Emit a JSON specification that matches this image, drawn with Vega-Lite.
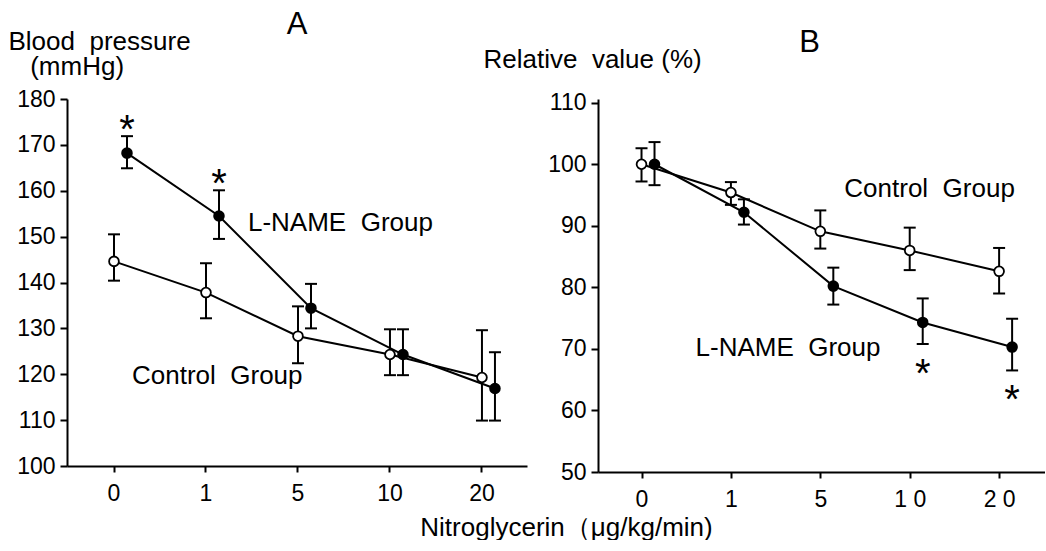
{
  "$schema": "https://vega.github.io/schema/vega-lite/v6.json",
  "background": "white",
  "padding": {"left": 8, "top": 9, "right": 0, "bottom": 0},
  "config": {
    "font": "Liberation Sans",
    "view": {"stroke": null},
    "axis": {
      "domainColor": "black", "domainWidth": 2, "tickColor": "black", "tickWidth": 2,
      "labelColor": "black", "titleColor": "black", "labelFont": "Liberation Sans",
      "titleFont": "Liberation Sans", "titleFontWeight": "normal", "grid": false
    },
    "title": {"fontWeight": "normal", "fontSize": 31, "color": "black", "font": "Liberation Sans"}
  },
  "datasets": {
    "panelA": [
      {"dose": "0", "group": "Control", "mean": 144.6, "lo": 140.4, "hi": 150.5, "sig": ""},
      {"dose": "1", "group": "Control", "mean": 137.8, "lo": 132.2, "hi": 144.2, "sig": ""},
      {"dose": "5", "group": "Control", "mean": 128.3, "lo": 122.4, "hi": 134.8, "sig": ""},
      {"dose": "10", "group": "Control", "mean": 124.3, "lo": 119.8, "hi": 129.8, "sig": ""},
      {"dose": "20", "group": "Control", "mean": 119.3, "lo": 109.9, "hi": 129.6, "sig": ""},
      {"dose": "0", "group": "L-NAME", "mean": 168.2, "lo": 164.9, "hi": 171.9, "sig": "*"},
      {"dose": "1", "group": "L-NAME", "mean": 154.5, "lo": 149.5, "hi": 160.1, "sig": "*"},
      {"dose": "5", "group": "L-NAME", "mean": 134.4, "lo": 130.0, "hi": 139.7, "sig": ""},
      {"dose": "10", "group": "L-NAME", "mean": 124.3, "lo": 119.8, "hi": 129.8, "sig": ""},
      {"dose": "20", "group": "L-NAME", "mean": 116.9, "lo": 109.9, "hi": 124.8, "sig": ""}
    ],
    "panelB": [
      {"dose": "0", "group": "Control", "mean": 100.0, "lo": 97.2, "hi": 102.6, "sig": ""},
      {"dose": "1", "group": "Control", "mean": 95.4, "lo": 93.4, "hi": 97.1, "sig": ""},
      {"dose": "5", "group": "Control", "mean": 89.1, "lo": 86.3, "hi": 92.5, "sig": ""},
      {"dose": "10", "group": "Control", "mean": 86.0, "lo": 82.8, "hi": 89.7, "sig": ""},
      {"dose": "20", "group": "Control", "mean": 82.6, "lo": 79.0, "hi": 86.4, "sig": ""},
      {"dose": "0", "group": "L-NAME", "mean": 100.0, "lo": 96.6, "hi": 103.6, "sig": ""},
      {"dose": "1", "group": "L-NAME", "mean": 92.2, "lo": 90.2, "hi": 94.3, "sig": ""},
      {"dose": "5", "group": "L-NAME", "mean": 80.2, "lo": 77.2, "hi": 83.2, "sig": ""},
      {"dose": "10", "group": "L-NAME", "mean": 74.3, "lo": 70.8, "hi": 78.2, "sig": "*"},
      {"dose": "20", "group": "L-NAME", "mean": 70.3, "lo": 66.5, "hi": 74.9, "sig": "*"}
    ]
  },
  "bounds": "flush",
  "spacing": 71,
  "hconcat": [
    {
      "width": 460,
      "height": 367,
      "title": {"text": "A", "anchor": "middle", "offset": 0, "dy": 13},
      "data": {"name": "panelA"},
      "encoding": {
        "x": {
          "field": "dose", "type": "ordinal", "sort": ["0", "1", "5", "10", "20"],
          "scale": {"type": "band", "paddingInner": 0.717, "paddingOuter": 0.3587, "align": 0.515},
          "axis": {
            "title": "Nitroglycerin（μg/kg/min)", "titleX": 499, "titleY": 69,
            "titleAlign": "center", "titleBaseline": "alphabetic", "titleFontSize": 26,
            "labelAngle": 0, "labelFontSize": 23, "labelPadding": 10, "tickSize": 6
          }
        },
        "xOffset": {"field": "group", "type": "nominal", "scale": {"domain": ["Control", "L-NAME"], "range": [6.5, 32.5]}}
      },
      "layer": [
        {
          "mark": {"type": "line", "color": "black", "strokeWidth": 2},
          "encoding": {
            "y": {
              "field": "mean", "type": "quantitative",
              "scale": {"domain": [100, 180], "nice": false, "zero": false},
              "axis": {
                "title": ["Blood\u00a0 pressure", "\u200b\u00a0\u00a0\u00a0(mmHg)"], "titleAngle": 0, "titleAlign": "left",
                "titleBaseline": "alphabetic", "titleX": -59, "titleY": -50, "titleFontSize": 26,
                "titleLineHeight": 25,
                "values": [100, 105, 110, 115, 120, 125, 130, 135, 140, 145, 150, 155, 160, 165, 170, 175, 180],
                "labelExpr": "datum.value % 10 == 0 ? datum.label : ''",
                "labelFontSize": 23, "tickSize": 7, "labelPadding": 5
              }
            },
            "detail": {"field": "group"}
          }
        },
        {
          "mark": {"type": "rule", "color": "black", "strokeWidth": 2},
          "encoding": {"y": {"field": "lo", "type": "quantitative"}, "y2": {"field": "hi"}}
        },
        {
          "mark": {"type": "tick", "color": "black", "thickness": 2, "size": 12, "opacity": 1},
          "encoding": {"y": {"field": "lo", "type": "quantitative"}}
        },
        {
          "mark": {"type": "tick", "color": "black", "thickness": 2, "size": 12, "opacity": 1},
          "encoding": {"y": {"field": "hi", "type": "quantitative"}}
        },
        {
          "mark": {"type": "point", "shape": "circle", "size": 95, "stroke": "black", "strokeWidth": 1.8, "opacity": 1},
          "encoding": {
            "y": {"field": "mean", "type": "quantitative"},
            "fill": {"field": "group", "type": "nominal", "scale": {"domain": ["Control", "L-NAME"], "range": ["white", "black"]}, "legend": null}
          }
        },
        {
          "mark": {"type": "text", "fontSize": 40, "baseline": "alphabetic", "dy": 7, "color": "black"},
          "encoding": {"y": {"field": "hi", "type": "quantitative"}, "text": {"field": "sig"}}
        },
        {
          "data": {"values": [{}]},
          "mark": {"type": "text", "fontSize": 26, "align": "left", "baseline": "alphabetic", "dx": 55, "color": "black"},
          "encoding": {"x": {"datum": "1"}, "xOffset": {"value": 0}, "y": {"datum": 151.2}, "text": {"value": "L-NAME\u00a0 Group"}}
        },
        {
          "data": {"values": [{}]},
          "mark": {"type": "text", "fontSize": 26, "align": "left", "baseline": "alphabetic", "dx": 31, "color": "black"},
          "encoding": {"x": {"datum": "0"}, "xOffset": {"value": 0}, "y": {"datum": 117.9}, "text": {"value": "Control\u00a0 Group"}}
        }
      ]
    },
    {
      "width": 447,
      "height": 373,
      "title": {"text": "B", "anchor": "middle", "offset": 0, "dx": -12, "dy": 13},
      "data": {"name": "panelB"},
      "encoding": {
        "x": {
          "field": "dose", "type": "ordinal", "sort": ["0", "1", "5", "10", "20"],
          "scale": {"type": "band", "paddingInner": 0.698, "paddingOuter": 0.349, "align": 0.489},
          "axis": {
            "title": null,
            "labelExpr": "datum.value == '10' ? '1 0' : datum.value == '20' ? '2 0' : datum.label",
            "labelAngle": 0, "labelFontSize": 23, "labelPadding": 10, "tickSize": 6
          }
        },
        "xOffset": {"field": "group", "type": "nominal", "scale": {"domain": ["Control", "L-NAME"], "range": [6.75, 33.75]}}
      },
      "layer": [
        {
          "mark": {"type": "line", "color": "black", "strokeWidth": 2},
          "encoding": {
            "y": {
              "field": "mean", "type": "quantitative",
              "scale": {"domain": [50, 110.6], "nice": false, "zero": false},
              "axis": {
                "title": "Relative\u00a0 value (%)", "titleAngle": 0, "titleAlign": "left",
                "titleBaseline": "alphabetic", "titleX": -115, "titleY": -32, "titleFontSize": 26,
                "values": [50, 55, 60, 65, 70, 75, 80, 85, 90, 95, 100, 105, 110],
                "labelExpr": "datum.value % 10 == 0 ? datum.label : ''",
                "labelFontSize": 23, "tickSize": 7, "labelPadding": 5
              }
            },
            "detail": {"field": "group"}
          }
        },
        {
          "mark": {"type": "rule", "color": "black", "strokeWidth": 2},
          "encoding": {"y": {"field": "lo", "type": "quantitative"}, "y2": {"field": "hi"}}
        },
        {
          "mark": {"type": "tick", "color": "black", "thickness": 2, "size": 12, "opacity": 1},
          "encoding": {"y": {"field": "lo", "type": "quantitative"}}
        },
        {
          "mark": {"type": "tick", "color": "black", "thickness": 2, "size": 12, "opacity": 1},
          "encoding": {"y": {"field": "hi", "type": "quantitative"}}
        },
        {
          "mark": {"type": "point", "shape": "circle", "size": 95, "stroke": "black", "strokeWidth": 1.8, "opacity": 1},
          "encoding": {
            "y": {"field": "mean", "type": "quantitative"},
            "fill": {"field": "group", "type": "nominal", "scale": {"domain": ["Control", "L-NAME"], "range": ["white", "black"]}, "legend": null}
          }
        },
        {
          "mark": {"type": "text", "fontSize": 40, "baseline": "alphabetic", "dy": 43, "color": "black"},
          "encoding": {"y": {"field": "lo", "type": "quantitative"}, "text": {"field": "sig"}}
        },
        {
          "data": {"values": [{}]},
          "mark": {"type": "text", "fontSize": 26, "align": "left", "baseline": "alphabetic", "dx": 37, "color": "black"},
          "encoding": {"x": {"datum": "5"}, "xOffset": {"value": 0}, "y": {"datum": 94.7}, "text": {"value": "Control\u00a0 Group"}}
        },
        {
          "data": {"values": [{}]},
          "mark": {"type": "text", "fontSize": 26, "align": "left", "baseline": "alphabetic", "dx": 67, "color": "black"},
          "encoding": {"x": {"datum": "0"}, "xOffset": {"value": 0}, "y": {"datum": 68.9}, "text": {"value": "L-NAME\u00a0 Group"}}
        }
      ]
    }
  ]
}
